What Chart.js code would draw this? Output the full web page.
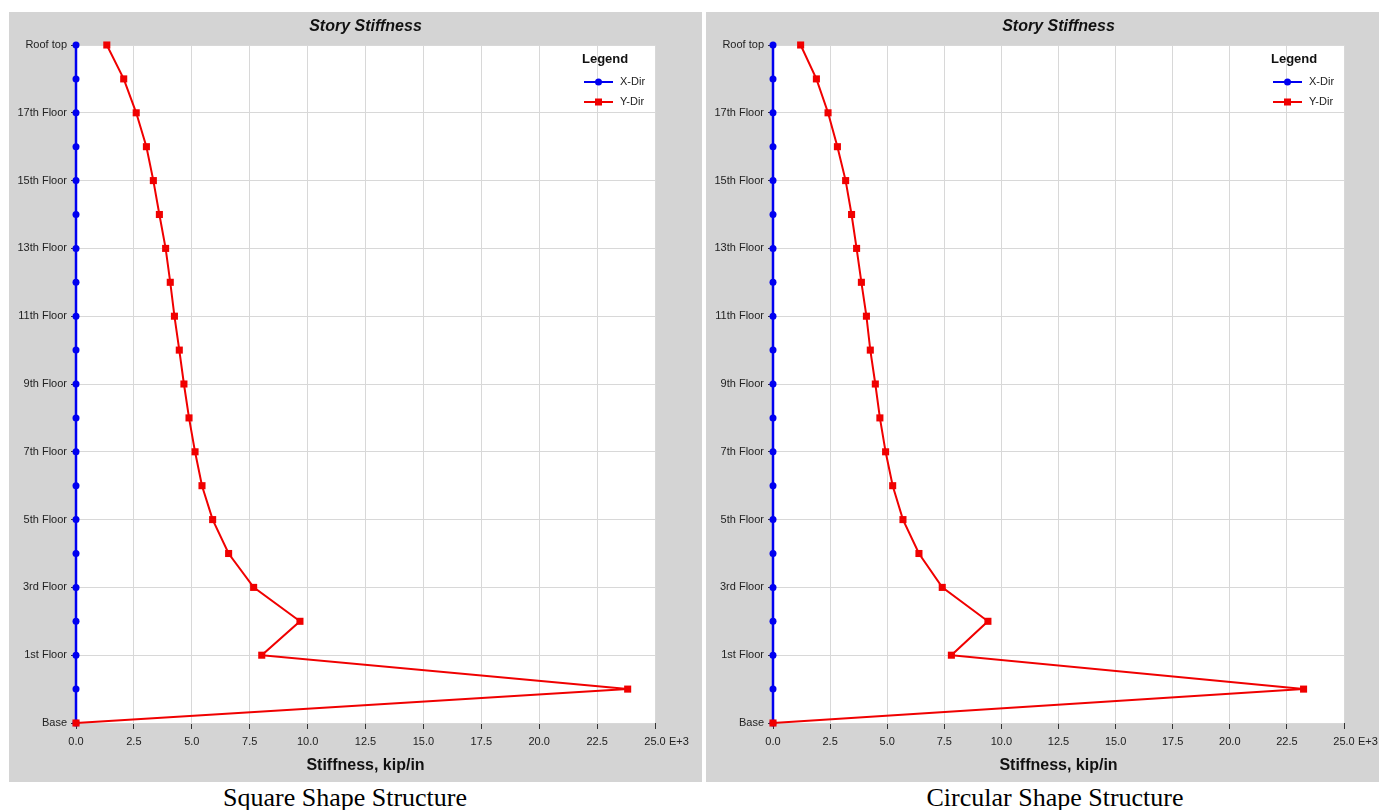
<!DOCTYPE html>
<html>
<head>
<meta charset="utf-8">
<script src="https://cdn.jsdelivr.net/npm/chart.js@4.4.1/dist/chart.umd.min.js"></script>
<style>
  html, body { margin:0; padding:0; background:#fff; width:1379px; height:810px; overflow:hidden; }
  .panel { position:absolute; top:12px; height:770px; background:#d4d4d4; }
  .caption { position:absolute; top:785px; font-family:"Liberation Serif","Times New Roman",serif; font-size:26px; line-height:26px; color:#000; white-space:nowrap; transform:translateX(-50%); }
</style>
</head>
<body>
<div class="panel" style="left:9px;width:693px;"><canvas id="c1" width="693" height="770"></canvas></div>
<div class="panel" style="left:706px;width:673px;"><canvas id="c2" width="673" height="770"></canvas></div>
<div class="caption" style="left:345px;">Square Shape Structure</div>
<div class="caption" style="left:1055px;">Circular Shape Structure</div>
<script>
// Story levels from Base (index 0) up to Roof top (index 20)
const storyLabels = ['Base','Ground Floor','1st Floor','2nd Floor','3rd Floor','4th Floor','5th Floor','6th Floor','7th Floor','8th Floor','9th Floor','10th Floor','11th Floor','12th Floor','13th Floor','14th Floor','15th Floor','16th Floor','17th Floor','18th Floor','Roof top'];

// Stiffness values (E+3 kip/in)
const squareXDir = [0,0,0,0,0,0,0,0,0,0,0,0,0,0,0,0,0,0,0,0,0];
const squareYDir = [0,23.82,8.02,9.67,7.67,6.59,5.90,5.44,5.14,4.88,4.66,4.46,4.25,4.07,3.87,3.60,3.34,3.04,2.60,2.06,1.33];
const circularXDir = [0,0,0,0,0,0,0,0,0,0,0,0,0,0,0,0,0,0,0,0,0];
const circularYDir = [0,23.23,7.81,9.41,7.41,6.39,5.69,5.24,4.93,4.68,4.48,4.26,4.09,3.87,3.66,3.44,3.18,2.82,2.41,1.90,1.21];

const chartTitle = 'Story Stiffness';
const xAxisTitle = 'Stiffness, kip/in';
const xAxisUnit = 'E+3';
const seriesNames = ['X-Dir','Y-Dir'];

const FONT = '"Liberation Sans", Arial, sans-serif';
const BLUE = '#0000f0';
const RED = '#f00000';

const decorPlugin = {
  id: 'decor',
  beforeDraw(chart) {
    const {ctx, chartArea: a} = chart;
    ctx.save();
    ctx.fillStyle = '#ffffff';
    ctx.fillRect(a.left, a.top, a.right - a.left, a.bottom - a.top);
    ctx.restore();
  },
  afterDraw(chart) {
    const {ctx, chartArea: a} = chart;
    const cx = (a.left + a.right) / 2;
    ctx.save();
    ctx.fillStyle = '#111';
    ctx.textAlign = 'center';
    ctx.textBaseline = 'middle';
    ctx.font = 'italic bold 16px ' + FONT;
    ctx.fillText(chartTitle, cx, 15);
    ctx.font = 'bold 16px ' + FONT;
    ctx.fillText(xAxisTitle, cx, a.bottom + 42.5);
    ctx.font = '11px ' + FONT;
    ctx.fillStyle = '#222';
    ctx.textAlign = 'left';
    ctx.fillText(xAxisUnit, chart.scales.x.getPixelForValue(25) + 14, a.bottom + 19);
    // legend
    const lx = a.right - 73;
    ctx.fillStyle = '#111';
    ctx.font = 'bold 13px ' + FONT;
    ctx.fillText('Legend', lx, a.top + 14);
    chart.data.datasets.forEach((ds, i) => {
      const y = a.top + 37 + i * 20;
      ctx.strokeStyle = ds.borderColor;
      ctx.lineWidth = 2;
      ctx.beginPath();
      ctx.moveTo(a.right - 71, y);
      ctx.lineTo(a.right - 42, y);
      ctx.stroke();
      ctx.fillStyle = ds.pointBackgroundColor;
      if (ds.pointStyle === 'circle') {
        ctx.beginPath(); ctx.arc(a.right - 56.5, y, 3.5, 0, Math.PI * 2); ctx.fill();
      } else {
        ctx.fillRect(a.right - 60, y - 3.5, 7, 7);
      }
      ctx.fillStyle = '#222';
      ctx.font = '11px ' + FONT;
      ctx.fillText(ds.label, a.right - 35, y);
    });
    ctx.restore();
  }
};

function makeChart(id, xDir, yDir, padRight) {
  const toPts = arr => arr.map((v, i) => ({x: v, y: i}));
  return new Chart(document.getElementById(id), {
    type: 'scatter',
    data: {
      datasets: [
        { label: seriesNames[0], data: toPts(xDir), showLine: true,
          borderColor: BLUE, borderWidth: 2.5, pointStyle: 'circle', pointRadius: 3.5,
          pointBackgroundColor: BLUE, pointBorderColor: BLUE, pointBorderWidth: 0,
          clip: false, order: 2 },
        { label: seriesNames[1], data: toPts(yDir), showLine: true,
          borderColor: RED, borderWidth: 2, pointStyle: 'rect', pointRadius: 5,
          pointBackgroundColor: RED, pointBorderColor: RED, pointBorderWidth: 0,
          clip: false, order: 1 }
      ]
    },
    options: {
      responsive: false, animation: false, devicePixelRatio: 1,
      layout: { padding: { top: 33, right: padRight, left: 0, bottom: 0 } },
      plugins: { legend: { display: false }, title: { display: false }, tooltip: { enabled: false } },
      scales: {
        x: {
          type: 'linear', min: 0, max: 25,
          ticks: { stepSize: 2.5, autoSkip: false, maxRotation: 0, padding: 6,
                   callback: v => Number(v).toFixed(1), font: { family: FONT, size: 11 }, color: '#222' },
          grid: { color: '#d8d8d8', tickColor: '#333', tickLength: 6, lineWidth: 1 },
          border: { display: false },
          afterFit: s => { s.height = 59; }
        },
        y: {
          type: 'linear', min: 0, max: 20,
          ticks: { stepSize: 2, autoSkip: false, padding: 4,
                   callback: v => storyLabels[Math.round(v)], font: { family: FONT, size: 11 }, color: '#222' },
          grid: { color: '#d8d8d8', tickColor: '#333', tickLength: 5, lineWidth: 1 },
          border: { display: false },
          afterFit: s => { s.width = 67; }
        }
      }
    },
    plugins: [decorPlugin]
  });
}

makeChart('c1', squareXDir, squareYDir, 47);
makeChart('c2', circularXDir, circularYDir, 35);
</script>
</body>
</html>
